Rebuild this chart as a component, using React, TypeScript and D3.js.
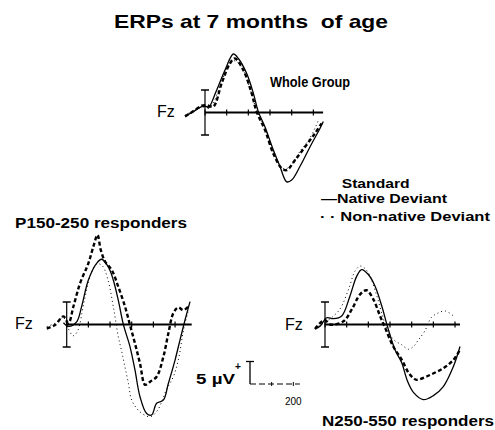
import React from 'react';
import * as d3 from 'd3';

type Pt = [number, number]; // [ms, µV]

// Whole group
const wholeNative: Pt[] = [[-92, -0.8], [-54, 0.2], [-15, 1.3], [8, 1.3], [16, 1.0], [54, 5.0], [92, 9.4], [131, 13.0], [154, 12.0], [192, 8.7], [223, 4.3], [246, 0.2], [277, -3.2], [315, -8.3], [346, -12.0], [377, -15.4], [400, -15.0], [438, -12.0], [485, -7.6], [531, -3.5], [546, -2.0]];
const wholeStandard: Pt[] = [[-92, -0.9], [-54, 0.3], [-15, 1.5], [8, 1.6], [38, 1.3], [77, 6.5], [115, 10.9], [138, 12.0], [177, 9.4], [215, 4.3], [238, 0.2], [277, -3.9], [315, -9.1], [354, -12.4], [377, -12.8], [415, -10.6], [462, -7.6], [508, -4.6], [538, -2.4]];
const wholeNonNative: Pt[] = [[-92, -0.6], [-54, 0.4], [-15, 1.2], [8, 1.2], [30, 1.5], [70, 6.0], [110, 10.5], [135, 11.5], [170, 10.0], [210, 5.0], [238, 0.5], [277, -3.5], [315, -8.8], [350, -12.0], [370, -12.6], [400, -11.5], [440, -8.5], [480, -6.0], [512, -3.0], [525, -1.5]];

// P150-250 responders
const leftNative: Pt[] = [[-15, 0.4], [8, -0.4], [46, 0.6], [69, 4.0], [100, 9.9], [138, 13.6], [161, 14.5], [192, 12.8], [215, 9.9], [238, 5.4], [262, -0.1], [292, -4.9], [315, -10.1], [338, -16.0], [369, -19.8], [392, -20.1], [415, -17.5], [446, -16.8], [469, -13.1], [500, -7.9], [523, -3.4], [546, 1.0], [569, 5.1]];
const leftStandard: Pt[] = [[-92, -0.9], [-54, -0.1], [-15, 1.8], [8, 0.3], [31, 4.0], [62, 9.2], [100, 13.6], [123, 17.3], [142, 19.9], [157, 16.6], [177, 14.0], [208, 12.1], [238, 8.4], [269, 4.0], [292, -0.1], [315, -4.2], [338, -8.6], [362, -13.4], [385, -12.7], [415, -11.6], [446, -7.2], [469, -2.0], [492, 2.5], [515, 3.8], [538, 3.2], [562, 4.0]];
const leftNonNative: Pt[] = [[-92, -0.5], [-54, 0.3], [-15, 1.5], [8, -1.0], [30, -2.5], [50, -1.5], [80, 5.0], [110, 11.0], [140, 13.5], [165, 13.0], [190, 10.0], [215, 4.0], [238, -2.7], [254, -6.0], [269, -9.5], [285, -13.1], [300, -16.8], [338, -19.4], [385, -20.5], [420, -19.0], [460, -14.5], [492, -11.6], [515, -7.9], [540, -1.0], [562, 3.2]];

// N250-550 responders
const rightNative: Pt[] = [[-46, -1.0], [-23, -0.4], [8, 1.5], [38, 1.3], [77, 1.9], [115, 6.3], [146, 10.7], [169, 12.2], [200, 11.1], [231, 8.5], [262, 4.1], [288, -0.4], [323, -5.6], [354, -8.5], [380, -12.5], [410, -15.2], [454, -16.7], [500, -15.8], [546, -13.8], [592, -9.4], [623, -4.9]];
const rightStandard: Pt[] = [[-46, -1.0], [-23, 0.3], [0, 1.0], [23, 0.0], [85, 0.7], [123, 3.3], [162, 6.7], [192, 7.6], [223, 5.6], [254, 1.9], [277, -0.7], [315, -4.9], [354, -7.8], [385, -10.7], [408, -11.9], [423, -12.3], [485, -11.2], [546, -9.7], [592, -7.9], [623, -5.6]];
const rightNonNative: Pt[] = [[-46, -0.8], [0, 0.5], [30, 1.5], [70, 3.5], [110, 8.0], [140, 12.0], [165, 13.0], [200, 11.5], [235, 7.0], [265, 2.0], [290, -1.5], [320, -3.5], [354, -4.5], [385, -5.5], [410, -4.8], [430, -3.5], [460, -1.5], [490, 1.5], [520, 2.5], [555, 3.0], [590, 2.0]];

const wholeTicks = [0, 100, 200, 300, 400, 500];
const leftTicks = [0, 100, 200, 300, 400, 500];
const rightTicks = [0, 100, 200, 300, 400, 500, 600];
const scaleTicks = [0, 100, 200];

const PX_MS = 0.2167;
const PX_UV = 4.5;

interface PanelProps {
  x0: number;
  y0: number;
  axisEnd: number;
  ticks: number[];
  native: Pt[];
  standard: Pt[];
  nonNative: Pt[];
  fzX: number;
  fzY: number;
}

const Panel: React.FC<PanelProps> = ({ x0, y0, axisEnd, ticks, native, standard, nonNative, fzX, fzY }) => {
  const x = d3.scaleLinear().domain([0, 100]).range([x0, x0 + 100 * PX_MS]);
  const y = d3.scaleLinear().domain([-5, 5]).range([y0 + 5 * PX_UV, y0 - 5 * PX_UV]);
  const line = d3
    .line<Pt>()
    .x((d) => x(d[0]))
    .y((d) => y(d[1]))
    .curve(d3.curveCatmullRom.alpha(0.5));

  return (
    <g>
      <text x={fzX} y={fzY} fontSize={16} fontFamily="Liberation Sans, Arial, sans-serif">
        Fz
      </text>
      {/* baseline */}
      <line x1={x(0)} x2={x(axisEnd)} y1={y(0)} y2={y(0)} stroke="#000" strokeWidth={2} />
      {ticks.map((t) => (
        <line key={t} x1={x(t)} x2={x(t)} y1={y(0) - 3} y2={y(0) + 3} stroke="#000" strokeWidth={1.2} />
      ))}
      {/* ±5 µV bar */}
      <line x1={x(0)} x2={x(0)} y1={y(5)} y2={y(-5)} stroke="#000" strokeWidth={1.2} />
      <line x1={x(0) - 4} x2={x(0) + 4} y1={y(5)} y2={y(5)} stroke="#000" strokeWidth={1.5} />
      <line x1={x(0) - 4} x2={x(0) + 4} y1={y(-5)} y2={y(-5)} stroke="#000" strokeWidth={1.5} />
      <path d={line(nonNative) || ''} fill="none" stroke="#000" strokeWidth={1} strokeDasharray="1,3" />
      <path d={line(standard) || ''} fill="none" stroke="#000" strokeWidth={2.4} strokeDasharray="4,2.5" />
      <path d={line(native) || ''} fill="none" stroke="#000" strokeWidth={1.3} />
    </g>
  );
};

const bold = { fontFamily: 'Liberation Sans, Arial, sans-serif', fontWeight: 700 } as const;

export default function App() {
  const sx = d3.scaleLinear().domain([0, 100]).range([250, 250 + 100 * PX_MS]);
  const sy = d3.scaleLinear().domain([0, 5]).range([384, 384 - 5 * PX_UV]);

  return (
    <svg width={495} height={430} style={{ position: 'absolute', left: 0, top: 0, background: '#fff' }}>
      <text x={114} y={28} fontSize={19} textLength={274} lengthAdjust="spacingAndGlyphs" style={{ ...bold, whiteSpace: 'pre' }}>
        ERPs at 7 months  of age
      </text>

      <Panel x0={205} y0={112.5} axisEnd={545} ticks={wholeTicks} native={wholeNative} standard={wholeStandard} nonNative={wholeNonNative} fzX={157} fzY={117} />
      <Panel x0={66.7} y0={324.5} axisEnd={577} ticks={leftTicks} native={leftNative} standard={leftStandard} nonNative={leftNonNative} fzX={15} fzY={329} />
      <Panel x0={325} y0={324.5} axisEnd={623} ticks={rightTicks} native={rightNative} standard={rightStandard} nonNative={rightNonNative} fzX={285} fzY={330} />

      <text x={270} y={87} fontSize={14} textLength={80} lengthAdjust="spacingAndGlyphs" style={bold}>
        Whole Group
      </text>
      <text x={15} y={228} fontSize={14} textLength={172} lengthAdjust="spacingAndGlyphs" style={bold}>
        P150-250 responders
      </text>
      <text x={322} y={426} fontSize={14} textLength={172} lengthAdjust="spacingAndGlyphs" style={bold}>
        N250-550 responders
      </text>

      {/* legend */}
      <text x={341.7} y={188} fontSize={12.5} textLength={68} lengthAdjust="spacingAndGlyphs" style={bold}>
        Standard
      </text>
      <text x={321} y={202.5} fontSize={12.5} textLength={126} lengthAdjust="spacingAndGlyphs" style={bold}>
        —Native Deviant
      </text>
      <text x={320} y={221} fontSize={12.5} textLength={170} lengthAdjust="spacingAndGlyphs" style={bold}>
        · · Non-native Deviant
      </text>

      {/* scale bar */}
      <text x={196} y={384} fontSize={15} textLength={39} lengthAdjust="spacingAndGlyphs" style={bold}>
        5 µV
      </text>
      <text x={235} y={370} fontSize={10} style={bold}>
        +
      </text>
      <line x1={sx(0)} x2={sx(0)} y1={sy(0)} y2={sy(5)} stroke="#000" strokeWidth={1.3} />
      <line x1={sx(0) - 4} x2={sx(0) + 4} y1={sy(5)} y2={sy(5)} stroke="#000" strokeWidth={1.3} />
      <line x1={sx(0)} x2={sx(230)} y1={sy(0)} y2={sy(0)} stroke="#000" strokeWidth={1} strokeDasharray="6,3" />
      {scaleTicks.slice(1).map((t) => (
        <line key={t} x1={sx(t)} x2={sx(t)} y1={sy(0) - 2} y2={sy(0) + 2} stroke="#000" strokeWidth={1} />
      ))}
      <text x={sx(200)} y={405} fontSize={10} textAnchor="middle" fontFamily="Liberation Sans, Arial, sans-serif">
        200
      </text>
    </svg>
  );
}
